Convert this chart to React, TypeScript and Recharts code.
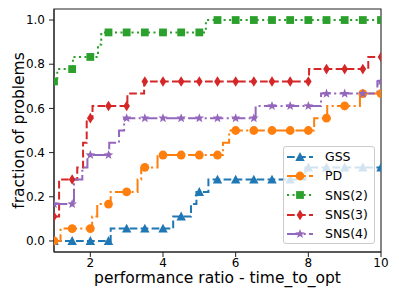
import React from 'react';
import { ComposedChart, Line, Scatter, XAxis, YAxis, ReferenceArea, Label } from 'recharts';

const X_TICKS = [2, 4, 6, 8, 10];
const Y_TICKS = [0, 0.2, 0.4, 0.6, 0.8, 1.0];

// x positions where the markers sit
const MARK_X = [1, 1.5, 2, 2.5, 3, 3.5, 4, 4.5, 5, 5.5, 6, 6.5, 7, 7.5, 8, 8.5, 9, 9.5, 10];

// step profile: x where each level starts, and the level
const GSS_STEP_X = [1, 2.56, 4.28, 4.77, 4.92, 5.25, 7.92, 10];
const GSS_STEP_Y = [0, 0.056, 0.111, 0.167, 0.222, 0.278, 0.333, 0.333];
const GSS_MARKS = [0, 0, 0, 0, 0.056, 0.056, 0.056, 0.111, 0.222, 0.278, 0.278, 0.278, 0.278, 0.278, 0.333, 0.333, 0.333, 0.333, 0.333];

const PD_STEP_X = [1, 1.18, 2.05, 2.19, 2.56, 3.3, 3.4, 3.85, 5.65, 5.82, 8.16, 8.52, 9.42, 10];
const PD_STEP_Y = [0, 0.056, 0.111, 0.167, 0.222, 0.278, 0.333, 0.389, 0.444, 0.5, 0.556, 0.611, 0.667, 0.667];
const PD_MARKS = [0, 0.056, 0.056, 0.167, 0.222, 0.333, 0.389, 0.389, 0.389, 0.389, 0.5, 0.5, 0.5, 0.5, 0.5, 0.556, 0.611, 0.667, 0.667];

const SNS2_STEP_X = [1, 1.09, 1.52, 2.21, 2.3, 5.18, 10];
const SNS2_STEP_Y = [0.722, 0.778, 0.833, 0.889, 0.944, 1.0, 1.0];
const SNS2_MARKS = [0.722, 0.778, 0.833, 0.944, 0.944, 0.944, 0.944, 0.944, 0.944, 1, 1, 1, 1, 1, 1, 1, 1, 1, 1];

const SNS3_STEP_X = [1, 1.14, 1.64, 1.8, 1.9, 2.06, 3.02, 3.48, 8.02, 9.65, 10];
const SNS3_STEP_Y = [0.111, 0.278, 0.333, 0.444, 0.556, 0.611, 0.667, 0.722, 0.778, 0.833, 0.833];
const SNS3_MARKS = [0.111, 0.278, 0.556, 0.611, 0.611, 0.722, 0.722, 0.722, 0.722, 0.722, 0.722, 0.722, 0.722, 0.722, 0.722, 0.778, 0.778, 0.778, 0.833];

const SNS4_STEP_X = [1, 1.55, 1.78, 1.92, 2.52, 2.79, 2.93, 6.55, 8.35, 9.9, 10];
const SNS4_STEP_Y = [0.167, 0.278, 0.333, 0.389, 0.444, 0.5, 0.556, 0.611, 0.667, 0.722, 0.722];
const SNS4_MARKS = [0.167, 0.167, 0.389, 0.389, 0.556, 0.556, 0.556, 0.556, 0.556, 0.556, 0.556, 0.556, 0.611, 0.611, 0.611, 0.667, 0.667, 0.667, 0.722];

const FONT = "'DejaVu Sans', sans-serif";
const DASHED = '7.7 3.3';
const DASHDOT = '13.3 3.3 2.1 3.3';
const DOTTED = '2.1 3.4';

const SERIES = [
  { name: 'GSS', color: '#1f77b4', dash: DASHED, marker: 'triangle', sx: GSS_STEP_X, sy: GSS_STEP_Y, marks: GSS_MARKS },
  { name: 'PD', color: '#ff7f0e', dash: DASHDOT, marker: 'circle', sx: PD_STEP_X, sy: PD_STEP_Y, marks: PD_MARKS },
  { name: 'SNS(2)', color: '#2ca02c', dash: DOTTED, marker: 'square', sx: SNS2_STEP_X, sy: SNS2_STEP_Y, marks: SNS2_MARKS },
  { name: 'SNS(3)', color: '#d62728', dash: DASHED, marker: 'diamond', sx: SNS3_STEP_X, sy: SNS3_STEP_Y, marks: SNS3_MARKS },
  { name: 'SNS(4)', color: '#9467bd', dash: DASHDOT, marker: 'star', sx: SNS4_STEP_X, sy: SNS4_STEP_Y, marks: SNS4_MARKS },
];

const pts = (xs: number[], ys: number[]) => xs.map((x, i) => ({ x, y: ys[i] }));

function markerShape(kind: string, color: string, cx: number, cy: number) {
  switch (kind) {
    case 'triangle':
      return <polygon points={`${cx},${cy - 4.9} ${cx + 4.7},${cy + 4} ${cx - 4.7},${cy + 4}`} fill={color} />;
    case 'circle':
      return <circle cx={cx} cy={cy} r={4.4} fill={color} />;
    case 'square':
      return <rect x={cx - 3.9} y={cy - 3.9} width={7.8} height={7.8} fill={color} />;
    case 'diamond':
      return <polygon points={`${cx},${cy - 5.3} ${cx + 3.3},${cy} ${cx},${cy + 5.3} ${cx - 3.3},${cy}`} fill={color} />;
    default: {
      const p: string[] = [];
      for (let i = 0; i < 10; i++) {
        const r = i % 2 === 0 ? 5 : 2.1;
        const a = (Math.PI / 5) * i - Math.PI / 2;
        p.push(`${cx + r * Math.cos(a)},${cy + r * Math.sin(a)}`);
      }
      return <polygon points={p.join(' ')} fill={color} />;
    }
  }
}

const LegendBox = () => (
  <div
    style={{
      position: 'absolute',
      left: 283,
      top: 146,
      width: 92,
      boxSizing: 'border-box',
      background: 'rgba(255,255,255,0.8)',
      border: '1px solid #cccccc',
      borderRadius: 3,
      fontFamily: FONT,
      fontSize: 12.5,
      color: '#000',
    }}
  >
    {SERIES.map((s) => (
      <div key={s.name} style={{ display: 'flex', alignItems: 'center', height: 19.3 }}>
        <svg width={26} height={12} style={{ marginLeft: 3, overflow: 'visible' }}>
          <line x1={0} y1={6} x2={26} y2={6} stroke={s.color} strokeWidth={2} strokeDasharray={s.dash} />
          {markerShape(s.marker, s.color, 13, 6)}
        </svg>
        <span style={{ marginLeft: 12, lineHeight: '19px' }}>{s.name}</span>
      </div>
    ))}
  </div>
);

export default function App() {
  return (
    <div style={{ position: 'absolute', left: 0, top: 0, width: 399, height: 299, background: '#fff' }}>
      <ComposedChart width={399} height={299} margin={{ top: 9, right: 18, left: 0, bottom: 0 }}>
        <XAxis
          type="number"
          dataKey="x"
          domain={[1, 10]}
          ticks={X_TICKS}
          allowDataOverflow
          interval={0}
          height={47}
          tickSize={5}
          tickMargin={1}
          stroke="#222"
          tick={{ fill: '#000', fontSize: 12, fontFamily: FONT }}
        >
          <Label
            content={() => (
              <text x={217.5} y={283} textAnchor="middle" fontSize={15.5} fontFamily={FONT} fill="#000">
                performance ratio - time_to_opt
              </text>
            )}
          />
        </XAxis>
        <YAxis
          type="number"
          domain={[-0.05, 1.05]}
          ticks={Y_TICKS}
          allowDataOverflow
          interval={0}
          width={54}
          tickSize={5}
          tickMargin={4}
          stroke="#222"
          tickFormatter={(v: number) => v.toFixed(1)}
          tick={{ fill: '#000', fontSize: 12, fontFamily: FONT }}
        >
          <Label
            content={() => (
              <text
                x={24}
                y={130.5}
                transform="rotate(-90 24 130.5)"
                textAnchor="middle"
                fontSize={15.5}
                fontFamily={FONT}
                fill="#000"
              >
                fraction of problems
              </text>
            )}
          />
        </YAxis>
        <ReferenceArea x1={1} x2={10} y1={-0.05} y2={1.05} fill="none" stroke="#222" strokeWidth={1.1} />
        {SERIES.flatMap((s) => [
          <Line
            key={s.name + '-line'}
            data={pts(s.sx, s.sy)}
            dataKey="y"
            type="stepAfter"
            stroke={s.color}
            strokeWidth={2}
            strokeDasharray={s.dash}
            dot={false}
            activeDot={false}
            isAnimationActive={false}
          />,
          <Scatter
            key={s.name + '-marks'}
            data={pts(MARK_X, s.marks)}
            dataKey="y"
            isAnimationActive={false}
            shape={(p: any) => markerShape(s.marker, s.color, p.cx, p.cy)}
          />,
        ])}
      </ComposedChart>
      <LegendBox />
    </div>
  );
}
